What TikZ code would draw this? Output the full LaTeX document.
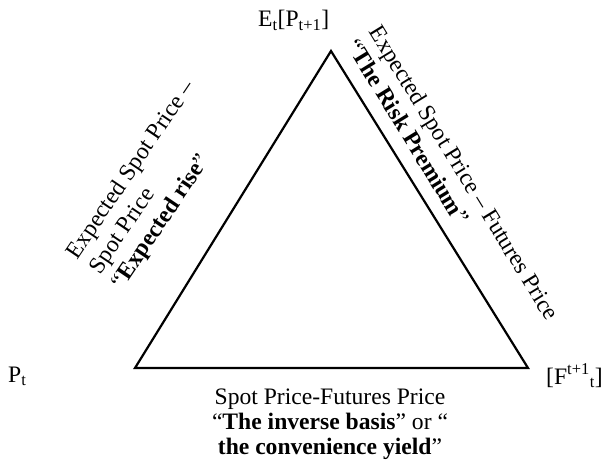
\documentclass[tikz,border=0pt]{standalone}
\usepackage{fontspec}
\setmainfont{Liberation Serif}
\begin{document}
\begin{tikzpicture}[x=1pt,y=-1pt,
  lbl/.style={inner sep=0pt, font=\fontsize{23.6}{27}\selectfont},
  edge/.style={line width=2.2pt, line join=miter}]
\useasboundingbox (0,0) rectangle (602,468);
\coordinate (A) at (331,51);
\coordinate (L) at (135,368);
\coordinate (R) at (528,368);
\draw[edge] (A) -- (L) -- (R) -- cycle;
\node[lbl, anchor=base west] (top) at (258,27) {E\textsubscript{t}[P\textsubscript{t+1}]};
\node[lbl, anchor=base west] (pt) at (8,382) {P\textsubscript{t}};
\node[lbl, anchor=base west] (ft) at (546,384) {[F\textsuperscript{t+1}\textsubscript{t}]};
\node[lbl, align=left, anchor=north west, rotate=56] (lefttxt) at (64,251)
  {Expected Spot Price –\\Spot Price\\“\textbf{Expected rise}”};
\node[lbl, align=left, anchor=north west, rotate=-58.5] (righttxt) at (383,23)
  {Expected Spot Price – Futures Price\\“\textbf{The Risk Premium}”};
\node[lbl, align=center, anchor=north, font=\fontsize{23.6}{25}\selectfont] (bottxt) at (330,389)
  {Spot Price-Futures Price\\“\textbf{The inverse basis}” or “\\\textbf{the convenience yield}”};
\end{tikzpicture}
\end{document}
